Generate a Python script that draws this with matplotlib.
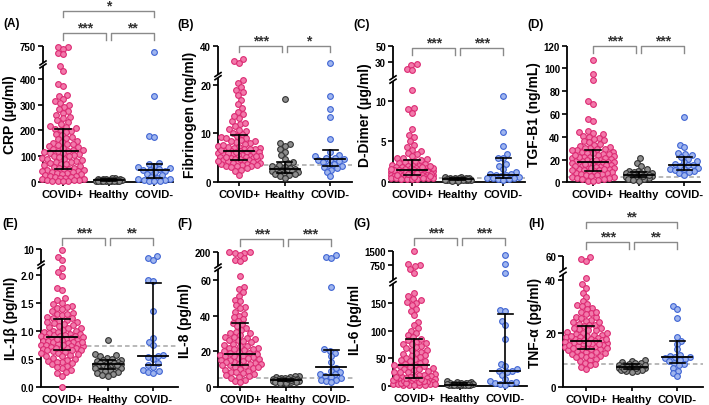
import numpy as np
import matplotlib
matplotlib.use("Agg")
import matplotlib.pyplot as plt
from matplotlib.lines import Line2D

plt.rcParams['font.family'] = ['Liberation Sans', 'DejaVu Sans']
plt.rcParams['font.weight'] = 'bold'

W, H = 709, 406
groups = ['COVID+', 'Healthy', 'COVID-']

# ---- data ----
crp_pos = [742, 738, 716, 668, 655, 448, 432, 380, 372, 338, 332, 322, 312, 305, 298, 290, 282, 275, 268, 260,
           252, 246, 240, 232, 224, 218, 214, 210, 206, 202, 198, 192, 186, 180, 175, 170, 165, 160, 155, 150,
           148, 145, 142, 138, 135, 132, 128, 125, 122, 120, 118, 115, 112, 110, 106, 103, 100, 98, 95, 92,
           90, 87, 84, 81, 78, 75, 72, 70, 67, 64, 61, 58, 55, 52, 50, 48, 46, 44, 42, 40,
           38, 36, 34, 32, 30, 28, 26, 24, 22, 20, 18, 16, 14, 12, 10, 8, 6, 5, 4, 3, 2, 1]
crp_healthy = [16, 14, 12, 11, 10, 9, 8, 8, 7, 7, 6, 6, 5, 5, 5, 4, 4, 4, 3, 3, 3, 2, 2, 1, 1]
crp_neg = [680, 335, 176, 172, 72, 68, 62, 56, 52, 48, 46, 44, 40, 36, 30, 25, 20, 16, 12, 10, 8, 6, 4, 3, 2]

fib_pos = [33, 32, 31, 21, 20.5, 19.5, 19, 18.5, 18, 17, 16, 15.2, 14.5, 14, 13.2, 12.5, 12, 11.5, 11, 10.5,
           10.2, 9.8, 9.5, 9.2, 9, 8.7, 8.5, 8.2, 8, 7.8, 7.5, 7.3, 7.1, 7, 6.9, 6.7, 6.5, 6.4, 6.3, 6.2,
           6.1, 6, 5.9, 5.8, 5.7, 5.6, 5.5, 5.4, 5.3, 5.2, 5.1, 5, 4.9, 4.8, 4.7, 4.6, 4.5, 4.4, 4.3, 4.2,
           4.1, 4, 3.9, 3.8, 3.7, 3.6, 3.5, 3.4, 3.3, 3.2, 3, 2.8, 2.5, 2.2, 1.5, 6.8, 6.6, 6.2, 5.9, 5.4,
           5.1, 4.8, 4.4, 7.2, 7.6, 8.4, 9.1, 10.8, 12.2, 13.6]
fib_healthy = [17.2, 8, 7.8, 7.4, 6.8, 6.2, 5.5, 4.8, 4.2, 3.9, 3.5, 3.2, 3, 2.8, 2.7, 2.6, 2.5, 2.4, 2.3, 2.2,
               2, 1.9, 1.8, 1.7, 1.6, 1.4, 1.2, 0.8]
fib_neg = [31, 17.8, 15, 13.3, 8.8, 6.2, 5.6, 5.3, 5, 4.9, 4.8, 4.6, 4.5, 4.3, 4.1, 3.8, 3.5, 3.2, 3, 2.8, 2.5, 2, 1.2]

dd_pos = [28, 27.5, 23, 22, 11.4, 9.2, 9, 8.6, 6.5, 5.8, 5.5, 5, 4.6, 4.3, 4, 3.8, 3.6, 3.4, 3.2, 3,
          2.9, 2.8, 2.7, 2.6, 2.5, 2.4, 2.3, 2.2, 2.1, 2, 1.95, 1.9, 1.85, 1.8, 1.75, 1.7, 1.65, 1.6, 1.55, 1.5,
          1.45, 1.4, 1.35, 1.3, 1.25, 1.2, 1.15, 1.1, 1.05, 1, 0.98, 0.95, 0.92, 0.9, 0.88, 0.85, 0.82, 0.8, 0.78, 0.75,
          0.72, 0.7, 0.68, 0.65, 0.62, 0.6, 0.58, 0.55, 0.52, 0.5, 0.48, 0.45, 0.42, 0.4, 0.38, 0.35, 0.32, 0.3,
          1.5, 1.4, 1.3, 1.2, 1.1, 1.0, 0.9, 0.8, 1.6, 1.7, 1.8, 2.0, 0.7, 0.6]
dd_healthy = [0.6, 0.55, 0.5, 0.48, 0.45, 0.42, 0.4, 0.38, 0.36, 0.34, 0.32, 0.3, 0.3, 0.28, 0.26, 0.25, 0.24,
              0.22, 0.2, 0.18, 0.16, 0.15, 0.12, 0.1, 0.35, 0.27]
dd_neg = [10.6, 6.2, 4.4, 3.4, 3.0, 2.9, 2.2, 2.0, 1.6, 1.2, 1.0, 0.9, 0.85, 0.8, 0.7, 0.6, 0.5, 0.45, 0.4, 0.3,
          0.25, 0.35]

tgf_pos = [107, 95, 90, 71, 69, 56, 54, 45, 44, 43, 42, 41, 40, 39, 38, 36, 34, 33, 32, 31,
           30, 29.5, 29, 28, 27, 26.5, 26, 25, 24.5, 24, 23, 22.5, 22, 21.5, 21, 20.5, 20, 19.5, 19, 18.5,
           18, 17.5, 17, 16.5, 16, 15.5, 15, 14.5, 14, 13.5, 13, 12.5, 12, 11.5, 11, 10.5, 10, 9.5, 9, 8.5,
           8, 7.5, 7, 6.5, 6, 5.5, 5, 4.5, 4, 3.5, 3, 2.5, 2, 1.5, 1, 20, 19, 18, 17, 16,
           15, 14, 13, 12, 11, 22, 24, 26, 28, 30, 35, 37]
tgf_healthy = [21, 17, 14, 12, 10, 9.5, 9, 8.5, 8, 7.5, 7, 7, 6.5, 6, 6, 5.5, 5, 5, 4.5, 4, 4, 3.5, 3, 2.5, 2,
               1.5, 8, 6.8, 5.8]
tgf_neg = [57, 33, 31, 26, 25, 24, 22, 20.5, 19, 18, 16.5, 15.5, 15, 14, 13, 12, 11.5, 11, 10, 9, 8, 6.5]

il1b_pos = [9.5, 6.2, 4.5, 2.12, 2.05, 1.98, 1.76, 1.72, 1.58, 1.55, 1.5, 1.47, 1.44, 1.42, 1.4, 1.38, 1.35, 1.32,
            1.3, 1.28, 1.25, 1.23, 1.2, 1.18, 1.16, 1.14, 1.12, 1.1, 1.08, 1.06, 1.04, 1.02, 1.0, 0.99, 0.97, 0.96,
            0.95, 0.94, 0.93, 0.92, 0.91, 0.9, 0.89, 0.88, 0.87, 0.86, 0.85, 0.84, 0.83, 0.82, 0.81, 0.8, 0.79,
            0.78, 0.77, 0.76, 0.75, 0.74, 0.73, 0.72, 0.71, 0.7, 0.69, 0.68, 0.67, 0.66, 0.65, 0.64, 0.62, 0.6,
            0.58, 0.56, 0.54, 0.52, 0.5, 0.48, 0.46, 0.44, 0.42, 0.4, 0.37, 0.34, 0.3, 0.27, 0.24, 0.2, 0.0,
            1.15, 1.05, 0.98, 0.9, 0.85, 0.8, 0.75, 0.7, 0.65, 0.6, 0.55, 1.3, 1.22, 0.45, 0.35]
il1b_healthy = [0.84, 0.58, 0.56, 0.54, 0.52, 0.5, 0.48, 0.47, 0.46, 0.45, 0.44, 0.42, 0.41, 0.4, 0.39, 0.38,
                0.37, 0.36, 0.35, 0.34, 0.33, 0.32, 0.3, 0.29, 0.28, 0.26, 0.25, 0.23, 0.21, 0.2, 0.43, 0.38]
il1b_neg = [6.6, 5.3, 4.5, 1.9, 1.88, 1.35, 0.87, 0.8, 0.75, 0.57, 0.55, 0.53, 0.5, 0.42, 0.38, 0.36, 0.3, 0.28,
            0.27, 0.25]

il8_pos = [200, 199, 197, 195, 188, 178, 172, 166, 62, 56, 55, 53, 51, 49, 48, 46, 45, 44, 42, 41,
           40, 39, 38, 37, 36, 35, 34, 33, 32, 31, 30, 29, 28, 27.5, 27, 26, 25.5, 25, 24, 23.5,
           23, 22, 21.5, 21, 20.5, 20, 19.5, 19, 18.5, 18, 17.5, 17, 16.5, 16, 15.5, 15, 14.5, 14, 13.5, 13,
           12.5, 12, 11.5, 11, 10.5, 10, 9.5, 9, 8.5, 8, 7.5, 7, 6.5, 6, 5.5, 5, 4, 3, 2.5, 15,
           16, 17, 14, 13, 12, 11, 19, 21, 23, 26, 28, 30]
il8_healthy = [6, 5.8, 5.5, 5.2, 5, 4.8, 4.6, 4.5, 4.3, 4.2, 4, 3.9, 3.8, 3.6, 3.5, 3.4, 3.3, 3.2, 3, 2.9, 2.8,
               2.6, 2.5, 2.4, 2.2, 2, 3.7, 4.1]
il8_neg = [190, 182, 178, 56, 21, 20, 19, 17, 14, 10.5, 9, 8, 7, 7, 6, 5.5, 5, 4, 3.5, 3, 2.5]

il6_pos = [1520, 790, 760, 720, 650, 560, 168, 162, 158, 155, 152, 150, 146, 140, 136, 128, 115, 110, 105, 100,
           96, 92, 88, 85, 82, 80, 78, 75, 72, 70, 68, 65, 62, 60, 58, 55, 52, 50, 48, 46,
           44, 42, 40, 38, 37, 36, 35, 34, 32, 30, 28, 26, 25, 24, 22, 20, 19, 18, 17, 16,
           15, 14, 13, 12, 11, 10, 9, 8, 7, 6, 5, 4.5, 4, 3.5, 3, 2.5, 2, 1.5, 1, 0.5,
           5, 6, 7, 8, 4, 3, 2, 9, 10, 12, 14, 16, 45, 55, 65, 75, 30, 25]
il6_healthy = [9, 7, 6, 5.5, 5, 4.5, 4, 3.5, 3, 3, 2.5, 2, 2, 1.5, 1.5, 1, 1, 0.5, 0.5, 2.2, 3.2, 1.8]
il6_neg = [1290, 790, 560, 138, 135, 117, 110, 85, 40, 35, 30, 27, 26, 25, 20, 12, 8, 6, 5, 4, 3, 2]

tnf_pos = [59.5, 58.5, 57.5, 40.5, 38.5, 37, 35, 33.5, 32, 31, 30.5, 30, 29.5, 29, 28, 27.5, 27, 26, 25.5, 25,
           24.5, 24, 23.5, 23, 22.5, 22, 21.5, 21, 20.5, 20, 19.8, 19.5, 19.2, 19, 18.7, 18.5, 18.2, 18, 17.8,
           17.5, 17.2, 17, 16.8, 16.5, 16.2, 16, 15.8, 15.5, 15.2, 15, 14.8, 14.5, 14.2, 14, 13.7, 13.4, 13,
           12.7, 12.4, 12, 11.5, 11, 10.5, 10, 9.5, 9, 8.5, 8, 7.5, 6.5, 17, 16, 15, 18, 19, 20, 21, 22,
           14, 13, 12, 11, 23, 24, 26, 28, 16.5, 17.5, 15.5, 14.5]
tnf_healthy = [10, 9.6, 9.2, 9, 8.8, 8.5, 8.2, 8, 7.8, 7.6, 7.5, 7.3, 7.2, 7, 6.9, 6.8, 6.6, 6.5, 6.3, 6.2, 6,
               5.8, 5.5, 7.4, 7.1, 8.1, 6.7]
tnf_neg = [30, 29, 25.5, 18.7, 17, 16, 14, 12, 11.5, 11.2, 11, 10.8, 10.5, 10, 9.5, 9, 8.5, 8, 7, 6, 5, 4]

# median, Q1, Q3 per group (COVID+, Healthy, COVID-)
medians = {'A': [120, 6, 45], 'B': [6.3, 2.6, 4.7], 'C': [1.5, 0.3, 0.85], 'D': [18, 6.5, 15],
           'E': [0.89, 0.4, 0.55], 'F': [18.5, 3.8, 10.8], 'G': [38, 2, 27], 'H': [17, 7.4, 11]}
q1s = {'A': [48, 3, 14], 'B': [4.5, 1.9, 3.2], 'C': [0.8, 0.2, 0.45], 'D': [10, 4.5, 11],
       'E': [0.65, 0.32, 0.38], 'F': [12, 3, 6.7], 'G': [14, 1, 5], 'H': [14, 6.6, 9]}
q3s = {'A': [205, 9, 70], 'B': [9.7, 4.1, 6.5], 'C': [2.7, 0.42, 3.0], 'D': [28, 9, 22.5],
       'E': [1.21, 0.48, 1.86], 'F': [36, 4.6, 20.5], 'G': [85, 4, 130], 'H': [22.5, 8.4, 17.2]}

ylabels = {'A': 'CRP (µg/ml)', 'B': 'Fibrinogen (mg/ml)', 'C': 'D-Dimer (µg/ml)', 'D': 'TGF-B1 (ng/mL)',
           'E': 'IL-1β (pg/ml)', 'F': 'IL-8 (pg/ml)', 'G': 'IL-6 (pg/ml', 'H': 'TNF-α (pg/ml)'}
ref_lines = {'B': 3.6, 'C': 0.42, 'D': 4.5, 'E': 0.73, 'F': 5.0, 'H': 8.5}
yticks = {'A': [0, 100, 200, 300, 400, 750], 'B': [0, 10, 20, 40], 'C': [0, 5, 10, 30, 50],
          'D': [0, 20, 40, 60, 80, 100, 120], 'E': [0, 0.5, 1.0, 1.5, 2.0, 10],
          'F': [0, 20, 40, 60, 200], 'G': [0, 50, 100, 150, 750, 1500], 'H': [0, 20, 40, 60]}
sig = {'A': [(0, 1, '***', 0), (1, 2, '**', 0), (0, 2, '*', 1)],
       'B': [(0, 1, '***', 0), (1, 2, '*', 0)],
       'C': [(0, 1, '***', 0), (1, 2, '***', 0)],
       'D': [(0, 1, '***', 0), (1, 2, '***', 0)],
       'E': [(0, 1, '***', 0), (1, 2, '**', 0)],
       'F': [(0, 1, '***', 0), (1, 2, '***', 0)],
       'G': [(0, 1, '***', 0), (1, 2, '***', 0)],
       'H': [(0, 1, '***', 0), (1, 2, '**', 0), (0, 2, '**', 1)]}

values = {'A': [crp_pos, crp_healthy, crp_neg], 'B': [fib_pos, fib_healthy, fib_neg],
          'C': [dd_pos, dd_healthy, dd_neg], 'D': [tgf_pos, tgf_healthy, tgf_neg],
          'E': [il1b_pos, il1b_healthy, il1b_neg], 'F': [il8_pos, il8_healthy, il8_neg],
          'G': [il6_pos, il6_healthy, il6_neg], 'H': [tnf_pos, tnf_healthy, tnf_neg]}

# ---- layout (pixels) ----
# spine x, right end x, first column x, top y, bottom y
boxes = {'A': (43, 173, 63, 47, 182.7), 'B': (218, 352, 239, 47, 183), 'C': (393, 525, 412, 46.7, 182.7),
         'D': (567, 700, 593, 46.7, 183.3), 'E': (41, 178, 62, 250, 387.7), 'F': (218, 353, 240, 252.7, 387.7),
         'G': (393, 527, 414, 252.3, 386.7), 'H': (563, 703, 586, 257.3, 387.7)}
# broken axis knots: data value -> fraction of axis height
knots = {'A': ([0, 450, 560, 750], [0, 0.853, 0.875, 1.0]),
         'B': ([0, 21.5, 25, 40], [0, 0.767, 0.79, 1.0]),
         'C': ([0, 12.5, 14, 30, 50], [0, 0.739, 0.764, 0.878, 1.0]),
         'D': ([0, 120], [0, 1.0]),
         'E': ([0, 2.15, 3, 10], [0, 0.874, 0.898, 1.0]),
         'F': ([0, 66, 150, 200], [0, 0.870, 0.894, 1.0]),
         'G': ([0, 185, 400, 750, 1500], [0, 0.759, 0.786, 0.898, 1.0]),
         'H': ([0, 42, 52, 60], [0, 0.862, 0.895, 1.0])}
breaks = {'A': (450, 560), 'B': (21.5, 25), 'C': (12.5, 14), 'E': (2.15, 3), 'F': (66, 150),
          'G': (185, 400), 'H': (42, 52)}
bracket_y = {'A': (34, 11.7), 'B': (46.7, None), 'C': (49.3, None), 'D': (47.3, None),
             'E': (239.3, None), 'F': (240, None), 'G': (239.3, None), 'H': (243.3, 222.7)}
label_pos = {'A': (3, 24), 'B': (177, 25), 'C': (353, 25), 'D': (527, 25),
             'E': (2, 224), 'F': (177, 224), 'G': (353, 224), 'H': (528, 224)}

SP = 45.7  # pixels between columns
MAXW = [21, 13, 16]  # widest half-spread of each column, pixels
face = ['#f27aab', '#8e8e8e', '#9fb5ee']
edge = ['#dc2a73', '#333333', '#3f64d3']


def make_scale(kd, kp):
    d = np.array(kd, float)
    p = np.array(kp, float)
    s0 = (p[1] - p[0]) / (d[1] - d[0])
    s1 = (p[-1] - p[-2]) / (d[-1] - d[-2])
    big = 1e6 * (d[-1] - d[0])
    d = np.r_[d[0] - big, d, d[-1] + big]
    p = np.r_[p[0] - big * s0, p, p[-1] + big * s1]
    return (lambda v: np.interp(v, d, p)), (lambda t: np.interp(t, p, d))


def swarm(ypx, dia, maxw):
    # beeswarm; when a row gets too wide, points are allowed to overlap
    order = np.argsort(ypx)
    xs = np.zeros(len(ypx))
    placed = []
    grid = np.linspace(-maxw, maxw, 43)
    for i in order:
        y = ypx[i]
        near = [(xj, yj) for xj, yj in placed if abs(y - yj) < dia]
        forb = []
        for xj, yj in near:
            w = np.sqrt(dia * dia - (y - yj) ** 2)
            forb.append((xj - w, xj + w))
        cands = [0.0] + [a for a, b in forb] + [b for a, b in forb]
        cands = [c for c in cands if abs(c) <= maxw]
        cands.sort(key=lambda c: (abs(c), c))
        chosen = None
        for c in cands:
            if all(not (a + 1e-9 < c < b - 1e-9) for a, b in forb):
                chosen = c
                break
        if chosen is None:
            best = -1
            for gx in sorted(grid, key=lambda c: (abs(c), c)):
                md = min(np.hypot(gx - xj, y - yj) for xj, yj in near)
                if md > best + 1e-6:
                    best, chosen = md, gx
        xs[i] = chosen
        placed.append((chosen, y))
    return xs


def fx(px):
    return px / W


def fy(py):
    return 1 - py / H


fig = plt.figure(figsize=(W / 100, H / 100), dpi=100)

for key in 'ABCDEFGH':
    sx, rx, c0, ty, by = boxes[key]
    hpx = by - ty
    ax = fig.add_axes([fx(sx), fy(by), (rx - sx) / W, hpx / H])
    fwd, inv = make_scale(*knots[key])
    ax.set_yscale('function', functions=(fwd, inv))
    ytop = knots[key][0][-1]
    ax.set_ylim(0, ytop)
    ax.set_xlim((sx - c0) / SP, (rx - c0) / SP)

    if key in ref_lines:
        ax.axhline(ref_lines[key], color='#a6a6a6', lw=1.1, ls=(0, (3, 2)), zorder=1)

    for g in range(3):
        v = np.array(values[key][g], float)
        ypx = fwd(v) * hpx
        xoff = swarm(ypx, 5.4, MAXW[g]) / SP
        ax.scatter(g + xoff, v, s=17, facecolor=face[g], edgecolor=edge[g], linewidth=0.8,
                   zorder=3, clip_on=False)
        # median and interquartile range
        ax.plot([g, g], [q1s[key][g], q3s[key][g]], color='black', lw=1.2, zorder=5, clip_on=False)
        ax.plot([g - 0.33, g + 0.33], [medians[key][g]] * 2, color='black', lw=1.3, zorder=5)
        for q in (q1s[key][g], q3s[key][g]):
            ax.plot([g - 0.17, g + 0.17], [q, q], color='black', lw=1.2, zorder=5)

    for s in ('top', 'right', 'left'):
        ax.spines[s].set_visible(False)
    ax.spines['bottom'].set_linewidth(1.3)
    ax.set_xticks(range(3))
    ax.set_xticklabels(groups, fontsize=8, fontweight='bold')
    ax.tick_params(axis='x', length=3, width=1.2, pad=2)
    ax.set_yticks(yticks[key])
    if key == 'E':
        ax.set_yticklabels(['0.0', '0.5', '1.0', '1.5', '2.0', '10'])
    else:
        ax.set_yticklabels([f'{t:g}' for t in yticks[key]])
    ax.tick_params(axis='y', length=3.5, width=1.2, labelsize=7, pad=1.5)
    for lab in ax.get_yticklabels():
        lab.set_fontweight('bold')
    ax.set_ylabel(ylabels[key], fontsize=10, fontweight='bold', labelpad=2)

    # left spine with break
    trans = ax.get_yaxis_transform()
    if key in breaks:
        lo, hi = breaks[key]
        ax.plot([0, 0], [0, lo], color='black', lw=1.3, transform=trans, clip_on=False, solid_capstyle='butt')
        ax.plot([0, 0], [hi, ytop], color='black', lw=1.3, transform=trans, clip_on=False, solid_capstyle='butt')
        for b in (lo, hi):
            yb = by - fwd(b) * hpx
            fig.add_artist(Line2D([fx(sx - 3), fx(sx + 3)], [fy(yb + 2), fy(yb - 2)], color='black', lw=1.2))
    else:
        ax.plot([0, 0], [0, ytop], color='black', lw=1.3, transform=trans, clip_on=False, solid_capstyle='butt')

    # significance brackets
    for i, j, txt, lvl in sig[key]:
        yl = bracket_y[key][lvl]
        xi = c0 + i * SP + (2.5 if i == 1 else 0)
        xj = c0 + j * SP - (2.5 if j == 1 else 0)
        fig.add_artist(Line2D([fx(xi), fx(xi), fx(xj), fx(xj)],
                              [fy(yl + 6.5), fy(yl), fy(yl), fy(yl + 6.5)], color='#8a8a8a', lw=1.0))
        fig.text(fx((xi + xj) / 2), fy(yl - 1.5), txt, ha='center', va='baseline', fontsize=10,
                 fontweight='bold', color='#333333')

    lx, ly = label_pos[key]
    fig.text(fx(lx), fy(ly), f'({key})', ha='left', va='center', fontsize=8.5, fontweight='bold')

fig.savefig('out.png', dpi=100)
